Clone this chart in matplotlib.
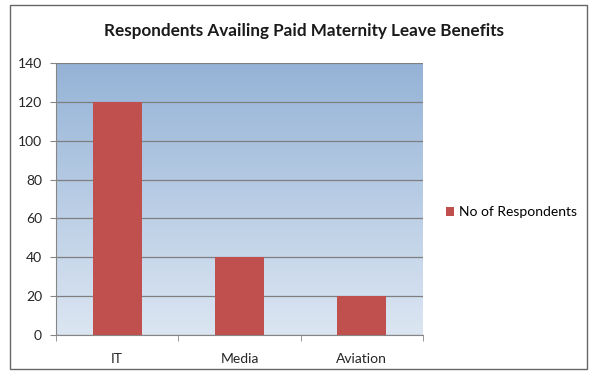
import numpy as np
import matplotlib.pyplot as plt
from matplotlib.colors import LinearSegmentedColormap
from matplotlib.patches import Rectangle

categories = ['IT', 'Media', 'Aviation']
respondents = [120, 40, 20]
y_ticks = [0, 20, 40, 60, 80, 100, 120, 140]

plt.rcParams['font.family'] = ['Lato', 'DejaVu Sans']

W, H = 590, 374
fig = plt.figure(figsize=(W / 100, H / 100), dpi=100)
ax = fig.add_axes([56 / W, 1 - 335 / H, (423 - 56) / W, (335 - 63) / H])

# gradient plot area
cmap = LinearSegmentedColormap.from_list('bg', ['#dce6f2', '#95b3d7'])
grad = np.linspace(0, 1, 256).reshape(-1, 1)
ax.imshow(grad, cmap=cmap, origin='lower', aspect='auto',
          extent=[-0.5, 2.5, 0, 140], zorder=0)

x = np.arange(len(categories))
ax.bar(x, respondents, width=0.4, color='#c0504d', zorder=3,
       label='No of Respondents')

ax.set_xlim(-0.5, 2.5)
ax.set_ylim(0, 140)
ax.set_yticks(y_ticks)
ax.yaxis.grid(True, color='#7f7f7f', linewidth=0.9, zorder=1)
ax.set_axisbelow(True)

ax.set_xticks(x)
ax.set_xticklabels(categories, fontsize=10, color='#262626')
ax.set_xticks([-0.5, 0.5, 1.5, 2.5], minor=True)
ax.tick_params(axis='x', which='major', length=0, pad=13)
ax.tick_params(axis='x', which='minor', length=4, color='#868686')
ax.tick_params(axis='y', length=4, color='#868686', labelsize=10,
               labelcolor='#262626', pad=6)

for s in ['top', 'right']:
    ax.spines[s].set_visible(False)
for s in ['left', 'bottom']:
    ax.spines[s].set_color('#868686')

fig.text(304 / W, 1 - 31 / H, 'Respondents Availing Paid Maternity Leave Benefits',
         ha='center', va='center', fontsize=12.3, fontweight='bold', color='#1a1a1a')

fig.legend(loc='center left', bbox_to_anchor=(433 / W, 1 - 212 / H), frameon=False,
           fontsize=10, handlelength=0.6, handleheight=0.6, handletextpad=0.4)

fig.patches.append(Rectangle((10 / W, 1 - 369 / H), (587 - 10) / W, (369 - 5) / H,
                             transform=fig.transFigure, fill=False,
                             edgecolor='#666666', linewidth=1))

fig.savefig('out.png', dpi=100)
